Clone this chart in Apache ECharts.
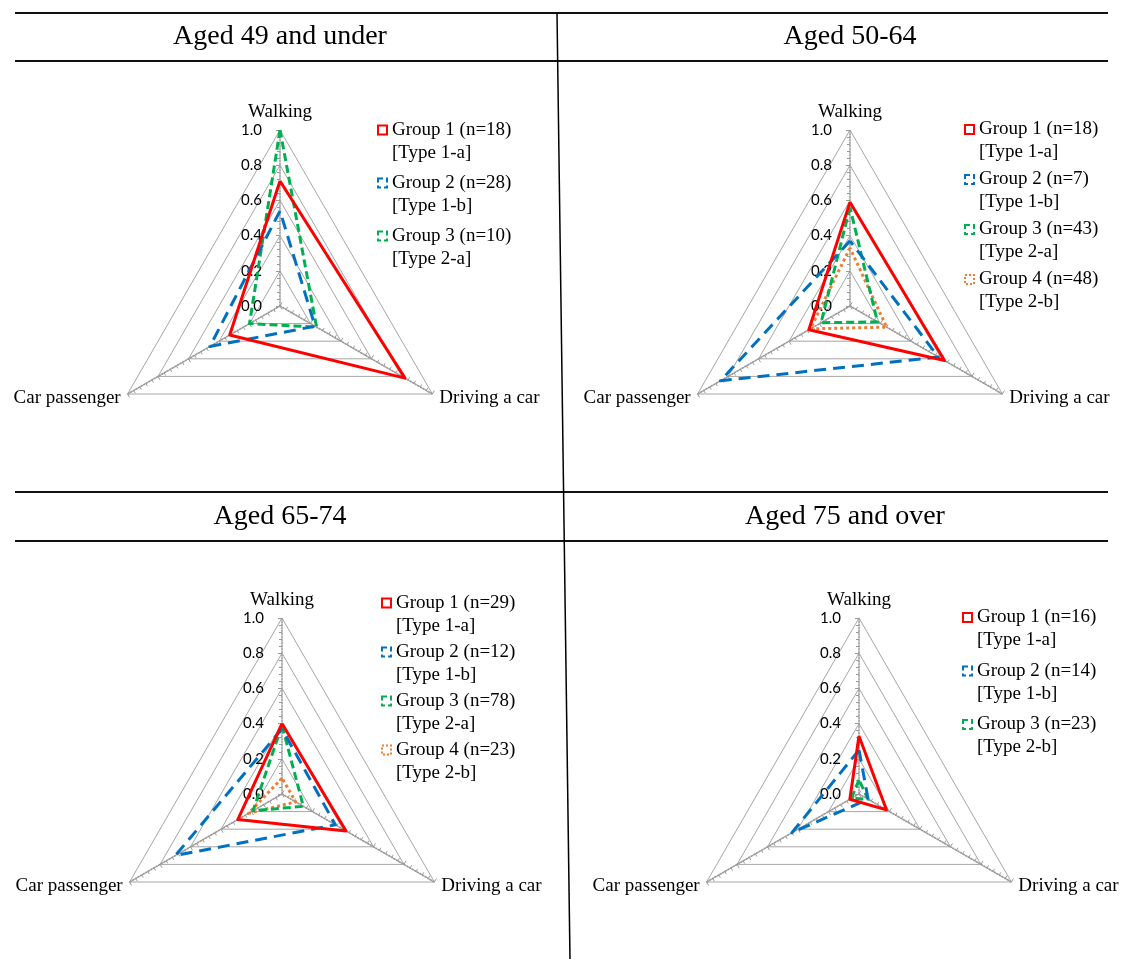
<!DOCTYPE html>
<html><head><meta charset="utf-8">
<script src="https://cdn.jsdelivr.net/npm/echarts@6/dist/echarts.min.js"></script>
<style>html,body{margin:0;padding:0;background:#fff}#c{width:1132px;height:959px}</style>
</head><body><div id="c"></div>
<script>
// ---------- data ----------
const indicatorNames = ['Walking', 'Car passenger', 'Driving a car'];
const axisMin = 0;
const axisMax = 1.0;
const axisSplits = 5;

const panelTitles = ['Aged 49 and under', 'Aged 50-64', 'Aged 65-74', 'Aged 75 and over'];

// values in indicator order: Walking, Car passenger, Driving a car
const groupsAged49 = ['Group 1 (n=18)\n[Type 1-a]', 'Group 2 (n=28)\n[Type 1-b]', 'Group 3 (n=10)\n[Type 2-a]'];
const valuesAged49 = [
  [0.71, 0.33, 0.82],
  [0.54, 0.46, 0.23],
  [1.00, 0.20, 0.24]
];

const groupsAged50 = ['Group 1 (n=18)\n[Type 1-a]', 'Group 2 (n=7)\n[Type 1-b]', 'Group 3 (n=43)\n[Type 2-a]', 'Group 4 (n=48)\n[Type 2-b]'];
const valuesAged50 = [
  [0.59, 0.27, 0.62],
  [0.37, 0.85, 0.58],
  [0.56, 0.19, 0.18],
  [0.33, 0.26, 0.24]
];

const groupsAged65 = ['Group 1 (n=29)\n[Type 1-a]', 'Group 2 (n=12)\n[Type 1-b]', 'Group 3 (n=78)\n[Type 2-a]', 'Group 4 (n=23)\n[Type 2-b]'];
const valuesAged65 = [
  [0.40, 0.29, 0.42],
  [0.37, 0.70, 0.35],
  [0.39, 0.19, 0.14],
  [0.09, 0.22, 0.09]
];

const groupsAged75 = ['Group 1 (n=16)\n[Type 1-a]', 'Group 2 (n=14)\n[Type 1-b]', 'Group 3 (n=23)\n[Type 2-b]'];
const valuesAged75 = [
  [0.33, 0.06, 0.18],
  [0.25, 0.44, 0.06],
  [0.08, 0.05, 0.06]
];

// ---------- layout & style ----------
const panels = [
  {groups: groupsAged49, values: valuesAged49, center: [280, 306], legend: {left: 377, top: 95.5, gap: -16}, titleX: 280, titleY: 23},
  {groups: groupsAged50, values: valuesAged50, center: [850, 306], legend: {left: 964, top: 95, gap: -19}, titleX: 850, titleY: 23},
  {groups: groupsAged65, values: valuesAged65, center: [282, 794], legend: {left: 381, top: 568.5, gap: -20}, titleX: 280, titleY: 503},
  {groups: groupsAged75, values: valuesAged75, center: [859, 794], legend: {left: 962, top: 583, gap: -15.5}, titleX: 845, titleY: 503}
];
const radius = 176;

const groupStyles = [
  {color: '#ff0000', type: 'solid', icon: 'solid'},
  {color: '#0070c0', type: [12, 7], icon: 'dashed'},
  {color: '#00b050', type: [8, 4], icon: 'dashed'},
  {color: '#ed7d31', type: [3, 3], icon: 'dotted'}
];

const serif = 'Liberation Serif';

const radars = [], series = [], legends = [], titles = [];
panels.forEach((p, pi) => {
  radars.push({
    center: p.center,
    radius: radius,
    startAngle: 90,
    shape: 'polygon',
    splitNumber: axisSplits,
    axisName: {color: '#000', fontFamily: serif, fontSize: 19},
    nameGap: 8,
    indicator: indicatorNames.map((n, i) => ({
      name: n, min: axisMin, max: axisMax,
      axisLabel: {show: i === 0},
      minorTick: {show: true, splitNumber: 5, length: 3, lineStyle: {color: '#999', width: 1}}
    })),
    axisLabel: {
      show: false, color: '#000', fontFamily: 'Lato', fontSize: 15, margin: 18,
      formatter: v => Number(v).toFixed(1)
    },
    axisTick: {show: true, length: 4, lineStyle: {color: '#999', width: 1}},
    axisLine: {show: true, lineStyle: {color: '#9a9a9a', type: 'dotted', width: 1.5}},
    splitLine: {show: true, lineStyle: {color: '#a6a6a6', width: 1}},
    splitArea: {show: false}
  });
  p.groups.forEach((g, gi) => {
    const st = groupStyles[gi];
    series.push({
      type: 'radar',
      radarIndex: pi,
      name: g,
      symbol: 'none',
      silent: true,
      z: 10 - gi,
      lineStyle: {color: st.color, width: 3, type: st.type},
      itemStyle: {color: st.color},
      data: [{name: g, value: p.values[gi]}]
    });
  });
  legends.push({
    left: p.legend.left, top: p.legend.top, orient: 'vertical',
    padding: 0, itemGap: p.legend.gap, itemWidth: 9, itemHeight: 9,
    selectedMode: false,
    textStyle: {fontFamily: serif, fontSize: 19, lineHeight: 23, color: '#000'},
    formatter: n => '\n' + n,
    data: p.groups.map((g, gi) => ({
      name: g, icon: 'rect',
      itemStyle: {color: '#fff', borderColor: groupStyles[gi].color, borderWidth: 2,
                  borderType: groupStyles[gi].icon === 'solid' ? 'solid' : (groupStyles[gi].icon === 'dashed' ? [5, 3] : [2, 2])}
    }))
  });
  titles.push({
    text: panelTitles[pi], left: p.titleX, top: p.titleY, textAlign: 'center', padding: 0,
    textStyle: {fontFamily: serif, fontSize: 28, fontWeight: 'normal', color: '#000'}
  });
});

const lineStyle = {stroke: '#111', lineWidth: 2};
const option = {
  backgroundColor: '#fff',
  animation: false,
  title: titles,
  radar: radars,
  legend: legends,
  series: series,
  graphic: [
    {type: 'line', shape: {x1: 15, y1: 13, x2: 1108, y2: 13}, style: lineStyle},
    {type: 'line', shape: {x1: 15, y1: 61, x2: 1108, y2: 61}, style: lineStyle},
    {type: 'line', shape: {x1: 15, y1: 492, x2: 1108, y2: 492}, style: lineStyle},
    {type: 'line', shape: {x1: 15, y1: 541, x2: 1108, y2: 541}, style: lineStyle},
    {type: 'line', shape: {x1: 557, y1: 13, x2: 570, y2: 959}, style: {stroke: '#000', lineWidth: 1.5}}
  ]
};
const chart = echarts.init(document.getElementById('c'), null, {renderer: 'canvas'});
chart.setOption(option);
</script></body></html>
